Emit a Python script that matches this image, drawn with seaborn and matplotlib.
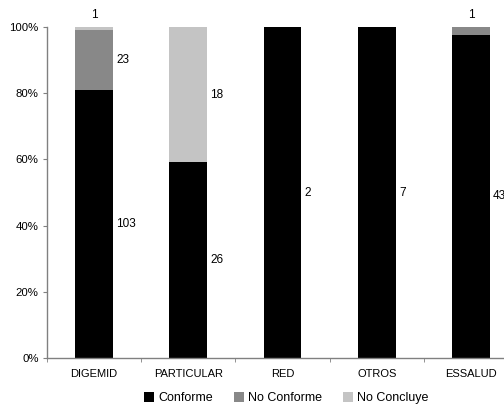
import pandas as pd
import matplotlib.pyplot as plt
import matplotlib.ticker as mticker
import seaborn as sns

# Datos
categorias = ['DIGEMID', 'PARTICULAR', 'RED', 'OTROS', 'ESSALUD']
conforme = [103, 26, 2, 7, 43]
no_conforme = [23, 0, 0, 0, 1]
no_concluye = [1, 18, 0, 0, 0]

series = ['Conforme', 'No Conforme', 'No Concluye']
colores = ['#000000', '#888888', '#c4c4c4']

df = pd.DataFrame({'Categoria': categorias, 'Conforme': conforme,
                   'No Conforme': no_conforme, 'No Concluye': no_concluye})
total = df[series].sum(axis=1)
for s in series:
    df[s + '_p'] = df[s] / total
df['acum1'] = df['Conforme_p']
df['acum2'] = df['acum1'] + df['No Conforme_p']
df['acum3'] = df['acum2'] + df['No Concluye_p']

sns.set_style('white', rc={'text.color': 'black', 'xtick.labelcolor': 'black',
                           'ytick.labelcolor': 'black'})
plt.rcParams['font.family'] = ['Liberation Sans', 'DejaVu Sans']

fig = plt.figure(figsize=(5.04, 4.04), dpi=100)
ax = fig.add_axes([0.093, 0.114, 0.935, 0.819])

# barras apiladas: se dibuja el acumulado de arriba hacia abajo
for col, color, nombre in zip(['acum3', 'acum2', 'acum1'], colores[::-1], series[::-1]):
    sns.barplot(data=df, x='Categoria', y=col, color=color, width=0.4,
                ax=ax, label=nombre, saturation=1, linewidth=0)

# etiquetas de valores
for i in range(len(categorias)):
    base = 0
    for s in series:
        n = df.loc[i, s]
        p = df.loc[i, s + '_p']
        if n > 0:
            if p < 0.05:
                ax.text(i, 1.036, str(n), ha='center', va='center', fontsize=8.5, color='black')
            else:
                ax.text(i + 0.235, base + p / 2, str(n), ha='left', va='center',
                        fontsize=8.5, color='black')
        base += p

ax.set_xlim(-0.5, 4.5)
ax.set_ylim(0, 1)
ax.yaxis.set_major_locator(mticker.MultipleLocator(0.2))
ax.yaxis.set_major_formatter(mticker.PercentFormatter(1.0, decimals=0))
ax.set_xlabel('')
ax.set_ylabel('')

# marcas del eje x en los limites de categoria
ax.set_xticks([i - 0.5 for i in range(len(categorias) + 1)], minor=True)
ax.tick_params(axis='x', which='major', length=0, pad=8, labelsize=8, labelcolor='black')
ax.tick_params(axis='x', which='minor', length=3, color='#808080', direction='out', bottom=True)
ax.tick_params(axis='y', length=3, color='#808080', direction='out', left=True, pad=3,
               labelsize=8.2, labelcolor='black')

sns.despine(ax=ax)
for lado in ['left', 'bottom']:
    ax.spines[lado].set_color('#808080')
    ax.spines[lado].set_linewidth(1)

handles, labels = ax.get_legend_handles_labels()
orden = [labels.index(s) for s in series]
leg = ax.legend([handles[k] for k in orden], series, loc='center', bbox_to_anchor=(0.508, -0.122),
                ncol=3, frameon=False, fontsize=9, handlelength=0.8, handleheight=0.8,
                handletextpad=0.3, columnspacing=1.7)
for t in leg.get_texts():
    t.set_color('black')

plt.savefig('out.png', dpi=100)
plt.close()
